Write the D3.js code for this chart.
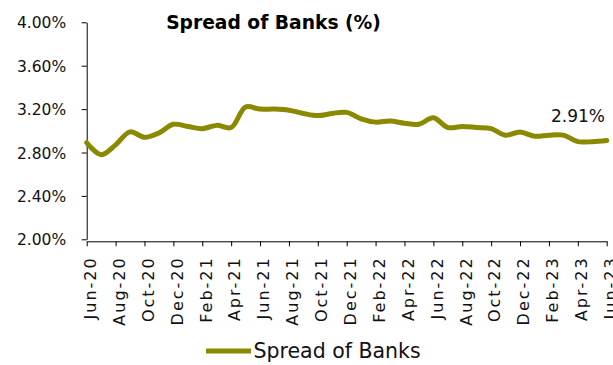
<!DOCTYPE html>
<html>
<head>
<meta charset="utf-8">
<script src="https://cdn.jsdelivr.net/npm/d3@7"></script>
<style>
  html, body { margin: 0; padding: 0; background: #fff; }
  svg { display: block; }
  text { font-family: "DejaVu Sans", sans-serif; fill: #111; }
</style>
</head>
<body>
<svg id="chart" width="613" height="365"></svg>
<script>
// Monthly spread of banks, Jun-2020 to Jun-2023
const months = [
  "Jun-20","Jul-20","Aug-20","Sep-20","Oct-20","Nov-20","Dec-20",
  "Jan-21","Feb-21","Mar-21","Apr-21","May-21","Jun-21","Jul-21","Aug-21","Sep-21","Oct-21","Nov-21","Dec-21",
  "Jan-22","Feb-22","Mar-22","Apr-22","May-22","Jun-22","Jul-22","Aug-22","Sep-22","Oct-22","Nov-22","Dec-22",
  "Jan-23","Feb-23","Mar-23","Apr-23","May-23","Jun-23"
];
const spread = [
  2.89, 2.78, 2.87, 2.99, 2.94, 2.98, 3.06,
  3.04, 3.02, 3.05, 3.03, 3.22, 3.20, 3.20, 3.19, 3.16, 3.14, 3.16, 3.17,
  3.11, 3.08, 3.09, 3.07, 3.06, 3.12, 3.03, 3.04, 3.03, 3.02, 2.96, 2.99,
  2.95, 2.96, 2.96, 2.90, 2.90, 2.91
];
const yTicks = [2.00, 2.40, 2.80, 3.20, 3.60, 4.00];
const xTickLabels = months.filter((m, i) => i % 2 === 0);
const seriesName = "Spread of Banks";
const chartTitle = "Spread of Banks (%)";

const lineColor = "#8a8900";
const svg = d3.select("#chart");

const x = d3.scalePoint().domain(months).range([86.7, 606.7]);
const y = d3.scaleLinear().domain([2, 4]).range([239.3, 22.3]);

// Y axis
const yAxis = svg.append("g")
  .attr("transform", "translate(86.7,0)")
  .call(d3.axisLeft(y).tickValues(yTicks).tickSize(5).tickSizeOuter(0)
    .tickFormat(d => d.toFixed(2) + "%"));
yAxis.select(".domain").attr("stroke", "#000");
yAxis.selectAll(".tick line").attr("stroke", "#000");
yAxis.selectAll(".tick text")
  .attr("x", -20.5)
  .attr("dy", "0.36em")
  .style("font-size", "15.5px")
  .style("fill", "#111");

// X axis with vertical month labels
const xAxis = svg.append("g")
  .attr("transform", "translate(0,241.3)")
  .call(d3.axisBottom(x).tickValues(xTickLabels).tickSize(5).tickSizeOuter(0));
xAxis.select(".domain").attr("stroke", "#000");
xAxis.selectAll(".tick line").attr("stroke", "#000");
xAxis.selectAll(".tick text")
  .attr("transform", "rotate(-90)")
  .attr("text-anchor", "end")
  .attr("x", -15)
  .attr("y", 0)
  .attr("dy", "0.55em")
  .style("font-size", "16px")
  .style("letter-spacing", "2px")
  .style("fill", "#111");

// Series line
const line = d3.line()
  .x((d, i) => x(months[i]))
  .y(d => y(d))
  .curve(d3.curveCatmullRom.alpha(0.5));

svg.append("path")
  .datum(spread)
  .attr("d", line)
  .attr("fill", "none")
  .attr("stroke", lineColor)
  .attr("stroke-width", 5)
  .attr("stroke-linejoin", "round")
  .attr("stroke-linecap", "round");

// Label on the latest value
const last = spread.length - 1;
svg.append("text")
  .attr("x", 605)
  .attr("y", 121.5)
  .attr("text-anchor", "end")
  .style("font-size", "17px")
  .text(spread[last].toFixed(2) + "%");

// Title
svg.append("text")
  .attr("x", 273.5)
  .attr("y", 29)
  .attr("text-anchor", "middle")
  .style("font-size", "18.7px")
  .style("font-weight", "bold")
  .style("fill", "#000")
  .text(chartTitle);

// Legend
const legend = svg.append("g");
legend.append("line")
  .attr("x1", 206).attr("x2", 251)
  .attr("y1", 351).attr("y2", 351)
  .attr("stroke", lineColor)
  .attr("stroke-width", 5);
legend.append("text")
  .attr("x", 253.5)
  .attr("y", 358.3)
  .style("font-size", "20.5px")
  .text(seriesName);
</script>
</body>
</html>
